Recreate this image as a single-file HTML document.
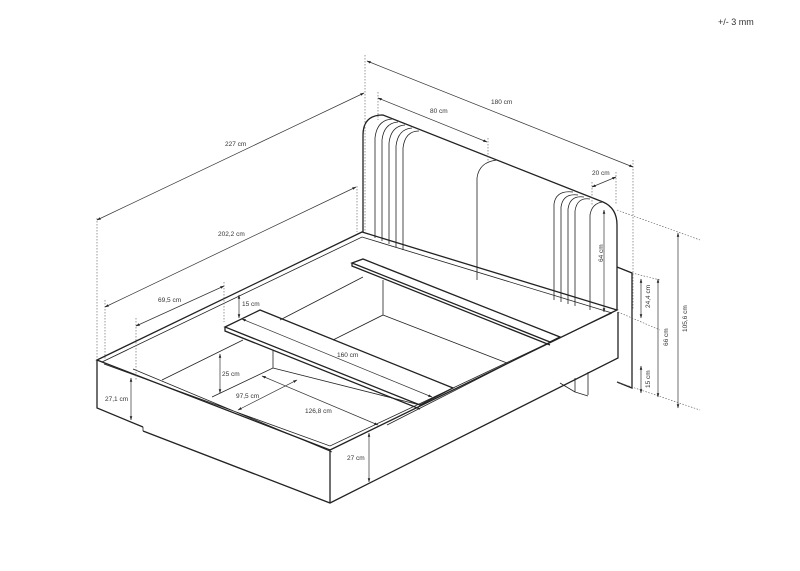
<!DOCTYPE html>
<html><head><style>
html,body{margin:0;padding:0;background:#fff;}
svg{display:block;font-family:"Liberation Sans",sans-serif;}
.l{stroke:#222;stroke-width:1.3;fill:none;}
.t{stroke:#222;stroke-width:0.8;fill:none;}
.d{stroke:#555;stroke-width:0.6;fill:none;stroke-dasharray:1.5 1.5;}
.dm{stroke:#333;stroke-width:0.7;fill:none;marker-start:url(#a);marker-end:url(#a);}
text{font-size:6.5px;fill:#333;}
</style></head><body>
<svg width="800" height="571" viewBox="0 0 800 571">
<defs><marker id="a" viewBox="0 0 10 10" refX="9" refY="5" markerWidth="6" markerHeight="6" orient="auto-start-reverse"><path d="M0,2L10,5L0,8z" fill="#222"/></marker></defs>
<rect width="800" height="571" fill="#fff"/>
<text x="718" y="25" style="font-size:9px">+/- 3 mm</text>

<!-- headboard -->
<path class="l" d="M363,232 L363,135 Q363,115 383,115 L603,202 Q617,208 617,225 L617,310"/>
<path class="t" d="M375,238 L375,138 Q377,120 392,119 M382,241 L382,140 Q384,123 398,122 M389,244 L389,143 Q391,126 405,125 M396,247 L396,146 Q398,129 412,128 M403,250 L403,148 Q405,131 419,131"/>
<path class="t" d="M477,280 L477,178 Q479,162 497,160"/>
<path class="t" d="M554,300 L554,204 Q556,190 573,192 M561,302 L561,207 Q563,193 578,195 M568,304 L568,209 Q570,195 584,197 M575,306 L575,211 Q577,197 590,199 M590,310 L590,215 Q592,203 603,202"/>
<!-- side panel -->
<path class="l" d="M617,267 L632,273 L632,388 L617,382"/>
<!-- frame outer -->
<path class="l" d="M97,360 L362,232 L617,310 L330,450 Z"/>
<path class="l" d="M97,360 L97,408 L143,427 M143,431 L330,503 L618,358 L618,312"/>
<path class="t" d="M143,427 L143,431"/>
<path class="l" d="M330,450 L330,503"/>
<!-- rim inner -->
<path class="t" d="M102,362 L362,237 L612,313 M104,364 L330,446 L612,313 M133,369 L332,452"/>
<!-- legs under right -->
<path class="t" d="M588,372 L588,395 M575,378 L575,392 L588,396 M560,383 L575,392"/>
<!-- inner walls & floor -->
<path class="t" d="M162,380 L243,340 M280,320 L363,277 M212,397 L273,368 L273,350 M273,368 L420,405 M333,340 L383,315 L383,280 M383,315 L507,363 M387,425 L560,337"/>
<!-- shelf -->
<path class="l" d="M352,263 L363,259 L560,337 L550,342 Z M352,263 L352,266 L550,345"/>
<!-- slat -->
<path class="l" d="M225,327 L260,310 L453,388 L420,405 Z M225,327 L225,331 L420,409"/>
<!-- dim extension lines -->
<path class="d" d="M97,218 L97,360 M365,55 L365,232 M105,300 L105,360 M357,186 L357,232 M136,318 L136,380 M224,282 L224,322 M378,92 L378,120 M488,138 L488,162 M633,160 L633,310 M592,182 L592,205 M616,172 L616,205 M617,210 L700,240 M618,312 L660,330 M617,382 L700,410 M632,273 L660,280"/>
<!-- dims -->
<line class="dm" x1="97" y1="220" x2="364" y2="93"/><text x="225" y="146">227 cm</text>
<line class="dm" x1="105" y1="307" x2="356" y2="187"/><text x="218" y="236">202,2 cm</text>
<line class="dm" x1="367" y1="61" x2="633" y2="167"/><text x="491" y="104">180 cm</text>
<line class="dm" x1="378" y1="98" x2="487" y2="142"/><text x="430" y="113">80 cm</text>
<line class="dm" x1="592" y1="187" x2="616" y2="177"/><text x="592" y="175">20 cm</text>
<line class="dm" x1="604" y1="210" x2="604" y2="312"/><text x="603" y="262" transform="rotate(-90 603 262)">64 cm</text>
<line class="dm" x1="641" y1="279" x2="641" y2="318"/><text x="650" y="308" transform="rotate(-90 650 308)">24,4 cm</text>
<line class="dm" x1="658" y1="279" x2="658" y2="397"/><text x="668" y="346" transform="rotate(-90 668 346)">66 cm</text>
<line class="dm" x1="641" y1="366" x2="641" y2="393"/><text x="650" y="388" transform="rotate(-90 650 388)">15 cm</text>
<line class="dm" x1="678" y1="233" x2="678" y2="408"/><text x="687" y="332" transform="rotate(-90 687 332)">105,6 cm</text>
<line class="dm" x1="136" y1="326" x2="224" y2="286"/><text x="158" y="302">69,5 cm</text>
<line class="dm" x1="239" y1="295" x2="239" y2="318"/><text x="242" y="306">15 cm</text>
<line class="dm" x1="220" y1="354" x2="220" y2="393"/><text x="222" y="376">25 cm</text>
<line class="dm" x1="238" y1="410" x2="297" y2="380"/><text x="236" y="398">97,5 cm</text>
<line class="dm" x1="262" y1="376" x2="378" y2="425"/><text x="305" y="413">126,8 cm</text>
<line class="dm" x1="242" y1="319" x2="432" y2="397"/><text x="337" y="357">160 cm</text>
<line class="dm" x1="131" y1="378" x2="131" y2="420"/><text x="105" y="401">27,1 cm</text>
<line class="dm" x1="369" y1="433" x2="369" y2="482"/><text x="347" y="460">27 cm</text>
</svg>
</body></html>
